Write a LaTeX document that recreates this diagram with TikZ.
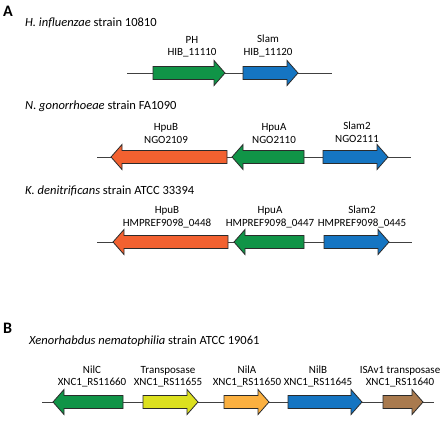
\documentclass[tikz,border=0pt]{standalone}
\usepackage{fontspec}
\setmainfont{Carlito}
\definecolor{ggreen}{HTML}{109447}
\definecolor{gblue}{HTML}{1575C2}
\definecolor{gorange}{HTML}{F26130}
\definecolor{gyellow}{HTML}{DCE01F}
\definecolor{glorange}{HTML}{FBB040}
\definecolor{gbrown}{HTML}{A97A4E}
\definecolor{goutline}{HTML}{2B2B2B}
\newcommand\geneR[4]{%
  \filldraw[gene,fill=#4] (#1,#3-6.5) -- (#2-11,#3-6.5) -- (#2-11,#3-12.5) -- (#2,#3) -- (#2-11,#3+12.5) -- (#2-11,#3+6.5) -- (#1,#3+6.5) -- cycle;}
\newcommand\geneL[4]{%
  \filldraw[gene,fill=#4] (#1,#3-6.5) -- (#2+11,#3-6.5) -- (#2+11,#3-12.5) -- (#2,#3) -- (#2+11,#3+12.5) -- (#2+11,#3+6.5) -- (#1,#3+6.5) -- cycle;}
\begin{document}
\begin{tikzpicture}[x=1pt,y=-1pt,
  gene/.style={draw=goutline,line width=0.8pt,line join=miter},
  backbone/.style={draw=black!75,line width=0.8pt},
  lbl/.style={anchor=base,inner sep=0pt,font=\fontsize{11}{12}\selectfont},
  ttl/.style={anchor=base west,inner sep=0pt,font=\fontsize{12.5}{14}\selectfont},
  panel/.style={anchor=base west,inner sep=0pt,font=\fontsize{16}{18}\selectfont\bfseries}]
\useasboundingbox (0,0) rectangle (443,420);
% Panel A
\node[panel] (pA) at (3,16.5) {A};
\node[ttl] (t1) at (25,27) {\textit{H. influenzae} strain 10810};
\coordinate (b1s) at (127,73); \coordinate (b1e) at (332,73);
\draw[backbone] (b1s) -- (b1e);
\geneR{153}{225}{73}{ggreen}
\geneR{243}{298}{73}{gblue}
\node[lbl] (l11) at (192,43.5) {PH};
\node[lbl] (l12) at (192,56) {HIB\_11110};
\node[lbl] (l13) at (268,42.5) {Slam};
\node[lbl] (l14) at (268,55) {HIB\_11120};
%
\node[ttl] (t2) at (25,109) {\textit{N. gonorrhoeae} strain FA1090};
\coordinate (b2s) at (97,157); \coordinate (b2e) at (411,157);
\draw[backbone] (b2s) -- (b2e);
\geneL{227}{111}{157}{gorange}
\geneL{304}{232}{157}{ggreen}
\geneR{323}{388}{157}{gblue}
\node[lbl] (l21) at (166,130) {HpuB};
\node[lbl] (l22) at (166,143) {NGO2109};
\node[lbl] (l23) at (274,130) {HpuA};
\node[lbl] (l24) at (274,143) {NGO2110};
\node[lbl] (l25) at (357,129) {Slam2};
\node[lbl] (l26) at (357,142) {NGO2111};
%
\node[ttl] (t3) at (25,194) {\textit{K. denitrificans} strain ATCC 33394};
\coordinate (b3s) at (97,242); \coordinate (b3e) at (412,242);
\draw[backbone] (b3s) -- (b3e);
\geneL{228}{113}{242}{gorange}
\geneL{304}{234}{242}{ggreen}
\geneR{324}{389}{242}{gblue}
\node[lbl] (l31) at (167,213) {HpuB};
\node[lbl] (l32) at (167,226) {HMPREF9098\_0448};
\node[lbl] (l33) at (270,213) {HpuA};
\node[lbl] (l34) at (270,226) {HMPREF9098\_0447};
\node[lbl] (l35) at (362,213) {Slam2};
\node[lbl] (l36) at (362,226) {HMPREF9098\_0445};
% Panel B
\node[panel] (pB) at (3,333.5) {B};
\node[ttl] (t4) at (29,344) {\textit{Xenorhabdus nematophilia} strain ATCC 19061};
\coordinate (b4s) at (42,402); \coordinate (b4e) at (434,402);
\draw[backbone] (b4s) -- (b4e);
\geneL{123}{53}{402}{ggreen}
\geneR{143}{198}{402}{gyellow}
\geneR{224}{269}{402}{glorange}
\geneR{288}{362}{402}{gblue}
\geneR{383}{423}{402}{gbrown}
\node[lbl] (l41) at (92,373) {NilC};
\node[lbl] (l42) at (92,385) {XNC1\_RS11660};
\node[lbl] (l43) at (168,373) {Transposase};
\node[lbl] (l44) at (168,385) {XNC1\_RS11655};
\node[lbl] (l45) at (247,373) {NilA};
\node[lbl] (l46) at (247,385) {XNC1\_RS11650};
\node[lbl] (l47) at (318,373) {NilB};
\node[lbl] (l48) at (318,385) {XNC1\_RS11645};
\node[lbl] (l49) at (400,373) {ISAv1 transposase};
\node[lbl] (l50) at (400,385) {XNC1\_RS11640};
\end{tikzpicture}
\end{document}
